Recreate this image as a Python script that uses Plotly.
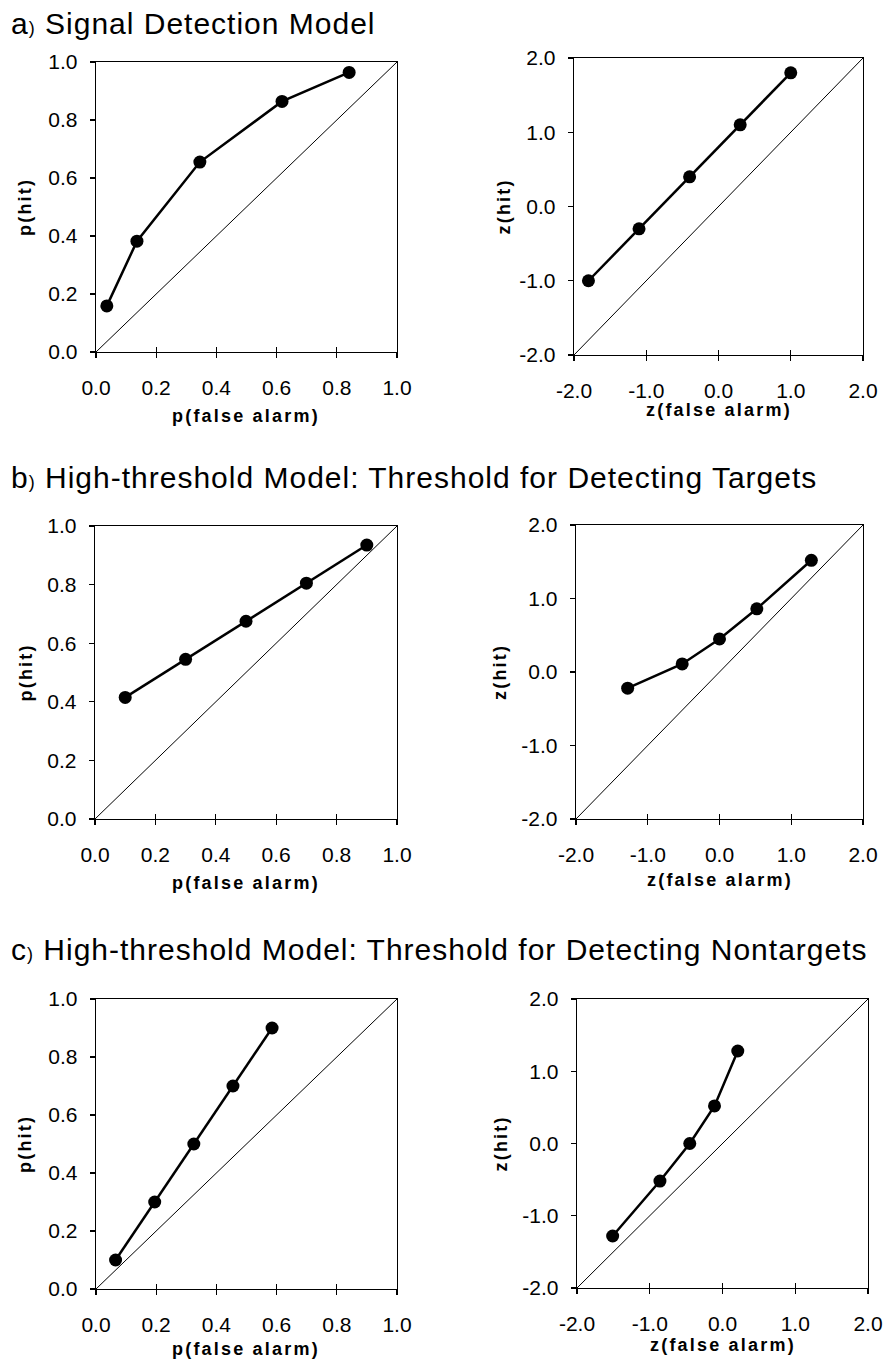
import plotly.graph_objects as go

# ---------------- data ----------------
a_pfa = [0.036, 0.136, 0.345, 0.618, 0.841]
a_phit = [0.159, 0.382, 0.655, 0.864, 0.964]
a_zfa = [-1.80, -1.10, -0.40, 0.30, 1.00]
a_zhit = [-1.00, -0.30, 0.40, 1.10, 1.80]

b_pfa = [0.10, 0.30, 0.50, 0.70, 0.90]
b_phit = [0.415, 0.545, 0.675, 0.805, 0.935]
b_zfa = [-1.28, -0.52, 0.00, 0.52, 1.28]
b_zhit = [-0.22, 0.11, 0.45, 0.86, 1.52]

c_pfa = [0.065, 0.195, 0.325, 0.455, 0.585]
c_phit = [0.10, 0.30, 0.50, 0.70, 0.90]
c_zfa = [-1.51, -0.86, -0.45, -0.11, 0.21]
c_zhit = [-1.28, -0.52, 0.00, 0.52, 1.28]

p_diag = [0.0, 1.0]
z_diag = [-2.0, 2.0]

p_tickvals = [0.0, 0.2, 0.4, 0.6, 0.8, 1.0]
p_ticktext = ["0.0", "0.2", "0.4", "0.6", "0.8", "1.0"]
z_tickvals = [-2.0, -1.0, 0.0, 1.0, 2.0]
z_ticktext = ["-2.0", "-1.0", "0.0", "1.0", "2.0"]

panel_titles = [
    "a",
    "Signal Detection Model",
    "b",
    "High-threshold Model: Threshold for Detecting Targets",
    "c",
    "High-threshold Model: Threshold for Detecting Nontargets",
]

# ---------------- layout geometry (page pixels) ----------------
W, H = 885, 1365
FONT = "Liberation Sans, Arial, sans-serif"

# (left, right, top, bottom) of each plotting box, in page pixels
boxes = [
    (96, 397, 62, 352),
    (574, 863, 58, 355),
    (95, 397, 526, 819),
    (576, 863, 525, 819),
    (96, 397, 999, 1289),
    (577, 868, 999, 1288),
]
xtitle_y = [416, 410, 883, 880, 1349, 1345]
ytitle_x = [25, 503, 25, 500, 25, 500]
title_y = [23, 477, 949]

panels = [
    (a_pfa, a_phit, "p"),
    (a_zfa, a_zhit, "z"),
    (b_pfa, b_phit, "p"),
    (b_zfa, b_zhit, "z"),
    (c_pfa, c_phit, "p"),
    (c_zfa, c_zhit, "z"),
]

fig = go.Figure()
layout = dict(
    template="none",
    width=W, height=H,
    margin=dict(l=0, r=0, t=0, b=0, pad=0, autoexpand=False),
    paper_bgcolor="white", plot_bgcolor="white",
    showlegend=False,
    font=dict(family=FONT, color="black"),
)
annotations = []

def px_x(px):
    return px / W

def px_y(py):
    return 1 - py / H

for i, ((xs, ys, kind), (l, r, t, b)) in enumerate(zip(panels, boxes)):
    n = i + 1
    xa = "x" if n == 1 else f"x{n}"
    ya = "y" if n == 1 else f"y{n}"
    diag = p_diag if kind == "p" else z_diag
    tv = p_tickvals if kind == "p" else z_tickvals
    tt = p_ticktext if kind == "p" else z_ticktext
    rng = [diag[0], diag[1]]

    fig.add_trace(go.Scatter(x=diag, y=diag, mode="lines",
                             line=dict(color="black", width=1),
                             xaxis=xa, yaxis=ya, hoverinfo="skip"))
    fig.add_trace(go.Scatter(x=xs, y=ys, mode="lines+markers",
                             line=dict(color="black", width=2.5),
                             marker=dict(color="black", size=13),
                             xaxis=xa, yaxis=ya, cliponaxis=False))

    common = dict(range=rng, tickmode="array", tickvals=tv, ticktext=tt,
                  showgrid=False, zeroline=False, showline=True,
                  linecolor="black", linewidth=1.3, mirror=True,
                  ticks="outside", ticklen=5, tickwidth=1.3, tickcolor="black",
                  tickfont=dict(family=FONT, size=21, color="black"),
                  automargin=False, fixedrange=True)
    layout["xaxis" if n == 1 else f"xaxis{n}"] = dict(
        common, domain=[px_x(l), px_x(r)], anchor=ya, ticklabelstandoff=11)
    layout["yaxis" if n == 1 else f"yaxis{n}"] = dict(
        common, domain=[px_y(b), px_y(t)], anchor=xa, ticklabelstandoff=8)
    # overlay axis for the inward half of the crossing x ticks
    m = n + 6
    layout[f"xaxis{m}"] = dict(range=rng, tickmode="array", tickvals=tv,
                               overlaying=xa, anchor=ya, showline=False,
                               showgrid=False, zeroline=False,
                               ticks="inside", ticklen=5, tickwidth=1.3,
                               tickcolor="black", showticklabels=False,
                               automargin=False, fixedrange=True)
    fig.add_trace(go.Scatter(x=[None], y=[None], xaxis=f"x{m}", yaxis=ya,
                             showlegend=False, hoverinfo="skip"))

    xlabel = "p(false alarm)" if kind == "p" else "z(false alarm)"
    ylabel = "p(hit)" if kind == "p" else "z(hit)"
    annotations.append(dict(
        text=f"<span style='letter-spacing:2.2px'><b>{xlabel}</b></span>",
        xref="paper", yref="paper", x=px_x((l + r) / 2), y=px_y(xtitle_y[i]),
        xanchor="center", yanchor="middle", showarrow=False,
        font=dict(family=FONT, size=18, color="black")))
    annotations.append(dict(
        text=f"<span style='letter-spacing:2.2px'><b>{ylabel}</b></span>",
        xref="paper", yref="paper", x=px_x(ytitle_x[i]), y=px_y((t + b) / 2),
        xanchor="center", yanchor="middle", textangle=-90, showarrow=False,
        font=dict(family=FONT, size=18, color="black")))

for k in range(3):
    letter = panel_titles[2 * k]
    name = panel_titles[2 * k + 1]
    annotations.append(dict(
        text=(f"<span style='letter-spacing:1px'>{letter}"
              f"<span style='font-size:18px'>)</span> {name}</span>"),
        xref="paper", yref="paper", x=px_x(9), y=px_y(title_y[k]),
        xanchor="left", yanchor="middle", showarrow=False,
        font=dict(family=FONT, size=30, color="black")))

layout["annotations"] = annotations
fig.update_layout(**layout)
# let the figure start at the very top-left corner of the page
fig.write_html("out.html",
               config={"displayModeBar": False, "staticPlot": True},
               post_script="document.body.style.margin='0px';"
                           "document.body.style.overflow='hidden';")
